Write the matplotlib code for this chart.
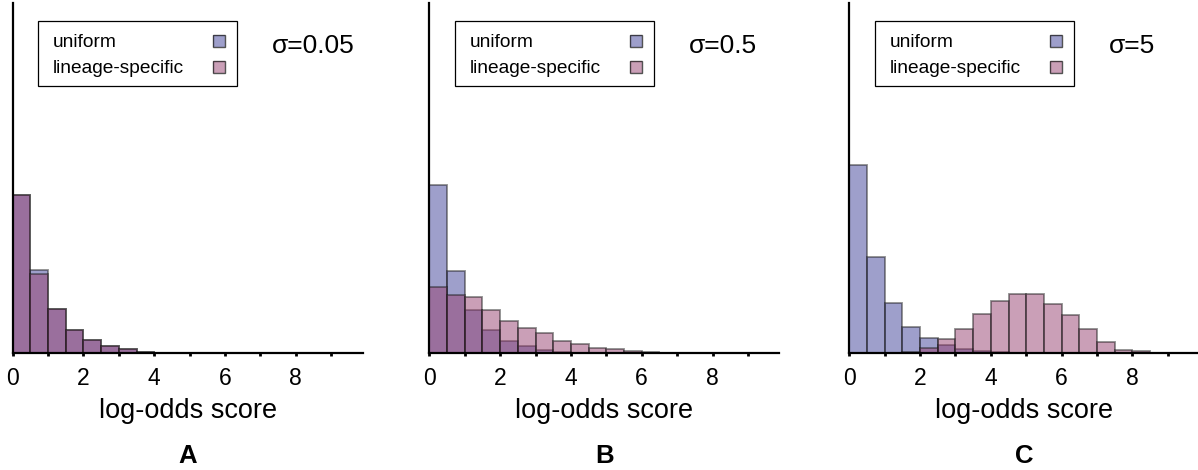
import numpy as np
import matplotlib
matplotlib.use("Agg")
import matplotlib.pyplot as plt
from matplotlib.patches import Rectangle

plt.rcParams['font.family'] = ['Liberation Sans', 'DejaVu Sans']

# --- data: bar heights per 0.5-wide bin (axis top = 1) ---
bin_edges = np.arange(0, 10.5, 0.5)

uniform_a = [0.452, 0.238, 0.126, 0.067, 0.038, 0.022, 0.013, 0.005, 0.002, 0.001,
             0.001, 0.0005, 0.0005, 0.0003, 0.0003, 0.0002, 0.0001, 0.0001, 0.0, 0.0]
lineage_a = [0.452, 0.228, 0.128, 0.068, 0.038, 0.022, 0.013, 0.005, 0.002, 0.001,
             0.001, 0.0005, 0.0005, 0.0003, 0.0003, 0.0002, 0.0001, 0.0001, 0.0, 0.0]

uniform_b = [0.480, 0.235, 0.124, 0.067, 0.035, 0.022, 0.009, 0.005, 0.002, 0.001,
             0.0005, 0.0003, 0.0002, 0.0001, 0.0, 0.0, 0.0, 0.0, 0.0, 0.0]
lineage_b = [0.190, 0.166, 0.162, 0.124, 0.093, 0.074, 0.059, 0.035, 0.026, 0.016,
             0.013, 0.007, 0.003, 0.001, 0.0005, 0.0003, 0.0002, 0.0001, 0.0, 0.0]

uniform_c = [0.539, 0.274, 0.145, 0.076, 0.043, 0.024, 0.012, 0.007, 0.004, 0.001,
             0.0005, 0.0002, 0.0, 0.0, 0.0, 0.0, 0.0, 0.0, 0.0, 0.0]
lineage_c = [0.0, 0.001, 0.002, 0.005, 0.016, 0.040, 0.071, 0.114, 0.150, 0.171,
             0.171, 0.141, 0.111, 0.069, 0.032, 0.011, 0.006, 0.001, 0.0, 0.0]

sigmas = ['σ=0.05', 'σ=0.5', 'σ=5']
panel_letters = ['A', 'B', 'C']
series_names = ['uniform', 'lineage-specific']
panels = [(uniform_a, lineage_a), (uniform_b, lineage_b), (uniform_c, lineage_c)]

xticks = list(range(10))
xticklabels = [str(t) if t % 2 == 0 else '' for t in xticks]

# --- style ---
col_uniform = '#3f4199'
col_lineage = '#974171'
alpha = 0.5
edge = (0.1, 0.1, 0.1, 0.75)

fig = plt.figure(figsize=(11.98, 4.70), dpi=100)
lefts = [0.0106, 0.3584, 0.7089]
ax_w, ax_b, ax_h = 0.2922, 0.2479, 0.7457

for i, ((uni, lin), left) in enumerate(zip(panels, lefts)):
    ax = fig.add_axes([left, ax_b, ax_w, ax_h])
    ax.bar(bin_edges[:-1], uni, width=0.5, align='edge', color=col_uniform,
           alpha=alpha, edgecolor=edge, linewidth=1.3)
    ax.bar(bin_edges[:-1], lin, width=0.5, align='edge', color=col_lineage,
           alpha=alpha, edgecolor=edge, linewidth=1.3)

    ax.set_xlim(0, 9.89)
    ax.set_ylim(0, 1)
    for s in ['top', 'right']:
        ax.spines[s].set_visible(False)
    for s in ['left', 'bottom']:
        ax.spines[s].set_linewidth(1.6)
    ax.set_yticks([])
    ax.set_xticks(xticks)
    ax.set_xticklabels(xticklabels, fontsize=16.5)
    ax.tick_params(axis='x', length=2.5, width=2, pad=7)
    ax.set_xlabel('log-odds score', fontsize=19.5, labelpad=6)

    # legend box drawn by hand so labels sit left and swatches right
    ax.add_patch(Rectangle((0.0731, 0.7632), 0.5686, 0.1863, transform=ax.transAxes,
                           facecolor='white', edgecolor='black', linewidth=0.9,
                           clip_on=False, zorder=5))
    for name, col, ty, sy in zip(series_names, [col_uniform, col_lineage],
                                 [0.8753, 0.8011], [0.8736, 0.7994]):
        ax.text(0.1143, ty, name, transform=ax.transAxes, fontsize=13.8,
                va='baseline', ha='left', zorder=6)
        ax.add_patch(Rectangle((0.573, sy), 0.0343, 0.0342, transform=ax.transAxes,
                               facecolor=col, alpha=alpha, edgecolor=None,
                               clip_on=False, zorder=6))
        ax.add_patch(Rectangle((0.573, sy), 0.0343, 0.0342, transform=ax.transAxes,
                               facecolor='none', edgecolor=edge, linewidth=1.0,
                               clip_on=False, zorder=7))

    ax.text(0.741, 0.8582, sigmas[i], transform=ax.transAxes, fontsize=19,
            va='baseline', ha='left')

    fig.text(left + ax_w / 2, 0.0143, panel_letters[i], fontsize=18.5,
             fontweight='bold', ha='center', va='baseline')

fig.savefig('out.png', dpi=100)
